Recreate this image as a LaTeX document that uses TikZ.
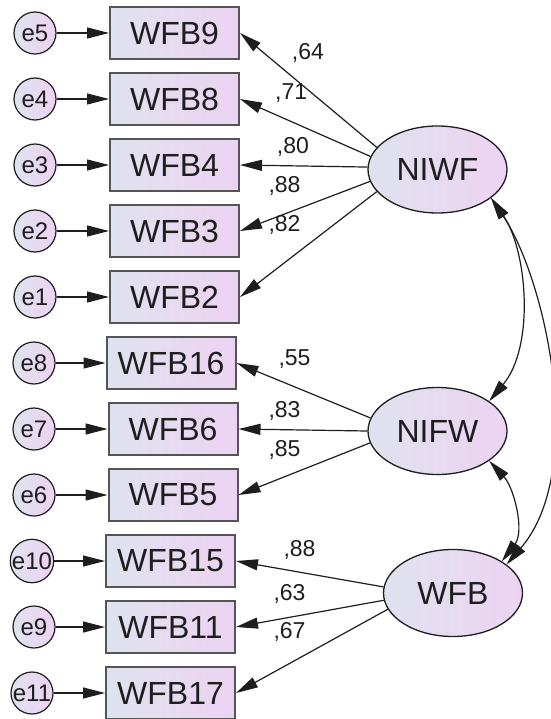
\documentclass[tikz,border=0pt]{standalone}
\usepackage{fontspec}
\setmainfont{Liberation Sans}
\usetikzlibrary{arrows.meta,shapes.geometric}
\definecolor{fillL}{HTML}{DFE2EF}
\definecolor{fillR}{HTML}{EDD3F3}
\definecolor{boxline}{HTML}{555555}
\definecolor{ink}{HTML}{1E1E1E}
\begin{document}
\begin{tikzpicture}[x=1pt,y=-1pt,
  obs/.style={draw=boxline, line width=2pt, left color=fillL, right color=fillR, minimum width=129pt, minimum height=52pt, inner sep=0pt, font=\fontsize{32}{32}\selectfont, text=ink},
  lat/.style={ellipse, draw=ink, line width=1.3pt, left color=fillL, right color=fillR, minimum width=139pt, minimum height=87pt, inner sep=0pt, font=\fontsize{32}{32}\selectfont, text=ink},
  err/.style={circle, draw=ink, line width=1.2pt, left color=fillL, right color=fillR, minimum size=42pt, inner sep=0pt, font=\fontsize{24}{24}\selectfont, text=ink},
  arr/.style={draw=ink, line width=1.2pt, -{Triangle[length=22pt,width=11pt]}},
  darr/.style={draw=ink, line width=1.2pt, {Triangle[length=22pt,width=11pt]}-{Triangle[length=22pt,width=11pt]}},
  lbl/.style={anchor=base west, inner sep=0pt, font=\fontsize{23}{23}\selectfont, text=ink}
]
\fill[white] (0,0) rectangle (550,719);
\useasboundingbox (0,0) rectangle (550,719);

% observed variables
\node[obs] (WFB9)  at (174.5,33)  {WFB9};
\node[obs] (WFB8)  at (174.5,99)  {WFB8};
\node[obs] (WFB4)  at (174.5,165) {WFB4};
\node[obs] (WFB3)  at (174.5,231) {WFB3};
\node[obs] (WFB2)  at (174.5,297) {WFB2};
\node[obs] (WFB16) at (171,363)   {WFB16};
\node[obs] (WFB6)  at (173,429)   {WFB6};
\node[obs] (WFB5)  at (173,495)   {WFB5};
\node[obs] (WFB15) at (170.5,561) {WFB15};
\node[obs] (WFB11) at (170.5,627) {WFB11};
\node[obs] (WFB17) at (170.5,693) {WFB17};

% error terms
\node[err] (e5)  at (35,33)  {e5};
\node[err] (e4)  at (35,99)  {e4};
\node[err] (e3)  at (35,165) {e3};
\node[err] (e2)  at (35,231) {e2};
\node[err] (e1)  at (35,297) {e1};
\node[err] (e8)  at (34,363) {e8};
\node[err] (e7)  at (34,429) {e7};
\node[err] (e6)  at (34,495) {e6};
\node[err] (e10) at (32,561) {e10};
\node[err] (e9)  at (34,627) {e9};
\node[err] (e11) at (32,693) {e11};

% latent variables
\node[lat] (NIWF) at (437.5,169.5) {NIWF};
\node[lat] (NIFW) at (437.5,431)   {NIFW};
\node[lat] (WFB)  at (453,593)     {WFB};

% error arrows
\foreach \e/\b in {e5/WFB9,e4/WFB8,e3/WFB4,e2/WFB3,e1/WFB2,e8/WFB16,e7/WFB6,e6/WFB5,e10/WFB15,e9/WFB11,e11/WFB17}
  \draw[arr] (\e) -- (\b.west);

% loadings
\draw[arr] (NIWF.160) -- (WFB9.east);
\draw[arr] (NIWF.169.5) -- (WFB8.east);
\draw[arr] (NIWF.178) -- (WFB4.east);
\draw[arr] (NIWF.190) -- (WFB3.east);
\draw[arr] (NIWF.200) -- (WFB2.east);
\draw[arr] (NIFW.169) -- (WFB16.east);
\draw[arr] (NIFW.180) -- (WFB6.east);
\draw[arr] (NIFW.190) -- (WFB5.east);
\draw[arr] (WFB.175) -- (WFB15.east);
\draw[arr] (WFB.186) -- (WFB11.east);
\draw[arr] (WFB.194) -- (WFB17.east);

% covariances
\draw[darr] (NIWF.-28) .. controls +(36,52) and +(46,-55) .. (NIFW.30);
\draw[darr] (NIWF.-28) .. controls +(55,82) and +(81,-94) .. (WFB.28);
\draw[darr] (NIFW.-30) .. controls +(25,27) and +(23,-30) .. (WFB.33);

% labels
\node[lbl] (l1)  at (291.7,59.3)  {,64};
\node[lbl] (l2)  at (275,99.3)    {,71};
\node[lbl] (l3)  at (276.7,154)   {,80};
\node[lbl] (l4)  at (268.3,192.7) {,88};
\node[lbl] (l5)  at (268.3,231.7) {,82};
\node[lbl] (l6)  at (278.3,365)   {,55};
\node[lbl] (l7)  at (268.3,417.3) {,83};
\node[lbl] (l8)  at (268.3,456)   {,85};
\node[lbl] (l9)  at (283.3,556)   {,88};
\node[lbl] (l10) at (273.3,600)   {,63};
\node[lbl] (l11) at (273.3,638.3) {,67};
\end{tikzpicture}
\end{document}
